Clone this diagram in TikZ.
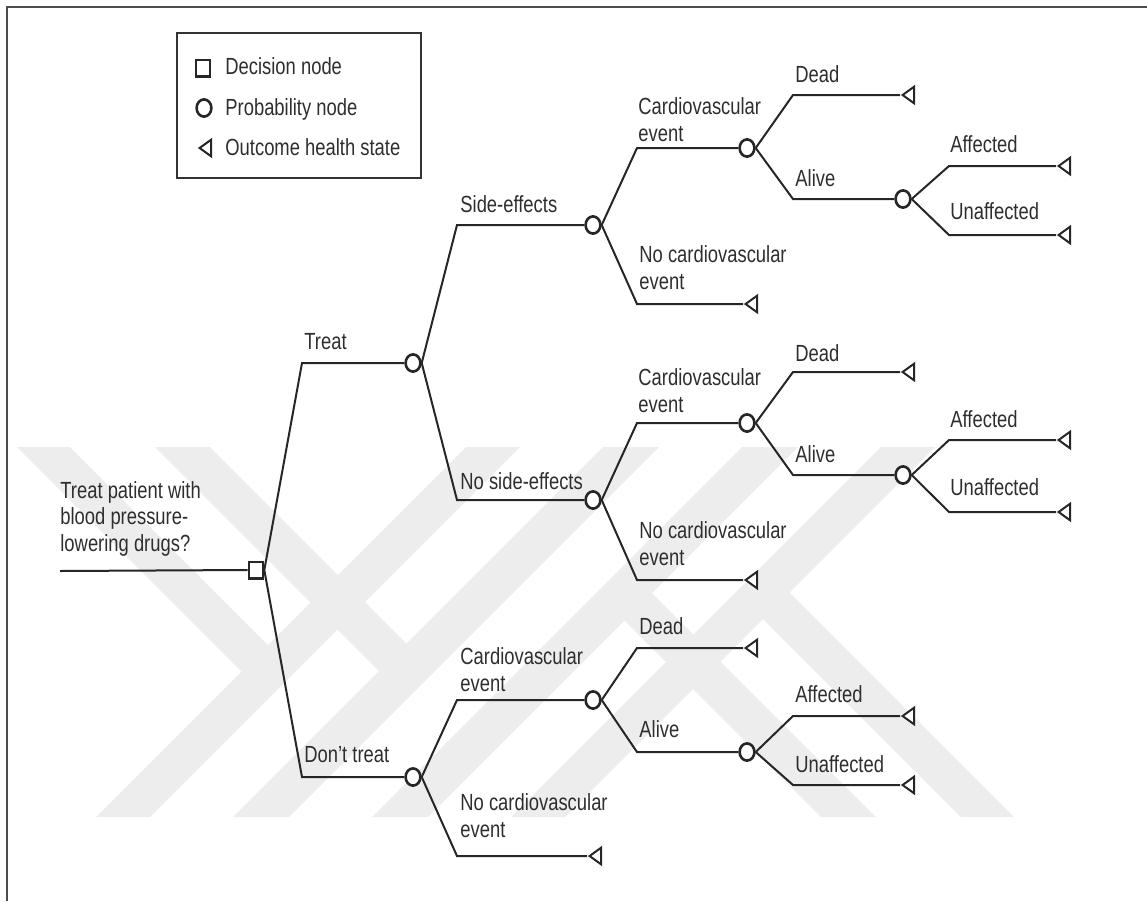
\documentclass[tikz,border=0pt]{standalone}
\usepackage{fontspec}
\setmainfont{Liberation Sans}
\usetikzlibrary{shapes.geometric,calc}
\tikzset{
  branch/.style={draw=black!85, line width=1pt},
  dnode/.style={draw=black!85, fill=white, line width=1.3pt, minimum width=7pt, minimum height=8.2pt, inner sep=0pt},
  pnode/.style={ellipse, draw=black!85, fill=white, line width=1.3pt, minimum width=7.4pt, minimum height=8.6pt, inner sep=0pt},
  onode/.style={isosceles triangle, isosceles triangle stretches, shape border rotate=180, draw=black!85, fill=white, line width=1pt, minimum height=5.8pt, minimum width=8.4pt, inner sep=0pt, anchor=apex},
  lbl/.style={font=\fontsize{9.2}{10.5}\selectfont, text=black!82, inner sep=0pt, yscale=1.27, anchor=south west, align=left},
  wm/.style={fill=black!7},
  frame/.style={draw=black!70, line width=0.7pt}
}
% one half of the background watermark
\newcommand{\wmlogo}{%
  \fill[wm] (96,817) -- (150,817) -- (520,447) -- (466,447) -- cycle;
  \fill[wm] (233,817) -- (289,817) -- (659,447) -- (603,447) -- cycle;
  \fill[wm] (17,447) -- (70,447) -- (281.5,658.5) -- (255,685) -- cycle;
  \fill[wm] (155,447) -- (210,447) -- (420.5,657.5) -- (393,685) -- cycle;
}

\begin{document}
\begin{tikzpicture}[x=0.5pt, y=-0.5pt]
\useasboundingbox (0,0) rectangle (1147,901);

% watermark
\wmlogo
\begin{scope}[rotate around={180:(515.5,632)}]
  \wmlogo
\end{scope}

% frame and legend
\draw[frame] (7,901) -- (7,7) -- (1147,7);
\draw[frame, draw=black!80] (177,33) rectangle (421,178);
\node[dnode] (lgDec) at (203,68) {};
\node[pnode] (lgProb) at (204,108) {};
\node[onode] (lgOut) at (197,148) {};
\node[lbl, anchor=base west] (lgDecT) at (225,74) {Decision node};
\node[lbl, anchor=base west] (lgProbT) at (225,115) {Probability node};
\node[lbl, anchor=base west] (lgOutT) at (225,155) {Outcome health state};

% decision
\coordinate (rootIn) at (60,571);
\node[dnode] (dec) at (256,570) {};
\node[lbl] (tRoot) at (60,557) {Treat patient with\\blood pressure-\\lowering drugs?};
\draw[branch] (rootIn) -- (dec.west);

% treat / don't treat
\coordinate (kTreat) at (302,363);
\coordinate (kDont) at (302,777);
\node[pnode] (pTreat) at (413,363) {};
\node[pnode] (pDont) at (413,777) {};
\draw[branch] (dec.east) -- (kTreat) -- (pTreat);
\draw[branch] (dec.east) -- (kDont) -- (pDont);
\node[lbl] (tTreat) at ($(kTreat)+(2,-13)$) {Treat};
\node[lbl] (tDont) at ($(kDont)+(2,-14)$) {Don't treat};

% side-effects / no side-effects
\coordinate (kSE) at (457,225);
\coordinate (kNSE) at (457,500);
\node[pnode] (pSE) at (593,225) {};
\node[pnode] (pNSE) at (593,500) {};
\draw[branch] (pTreat.east) -- (kSE) -- (pSE);
\draw[branch] (pTreat.east) -- (kNSE) -- (pNSE);
\node[lbl] (tSE) at ($(kSE)+(3,-12)$) {Side-effects};
\node[lbl] (tNSE) at ($(kNSE)+(3,-10)$) {No side-effects};

% side-effects subtree
\coordinate (kSECv) at (637,148);
\coordinate (kSENc) at (637,304);
\node[pnode] (pSECv) at (747,148) {};
\node[onode] (oSENc) at (743,304) {};
\draw[branch] (pSE.east) -- (kSECv) -- (pSECv);
\draw[branch] (pSE.east) -- (kSENc) -- (oSENc.apex);
\node[lbl] (tSECv) at ($(kSECv)+(1,-6)$) {Cardiovascular\\event};
\node[lbl] (tSENc) at ($(kSENc)+(2,-14)$) {No cardiovascular\\event};

\coordinate (kSEDead) at (793,95);
\coordinate (kSEAlive) at (793,199);
\node[onode] (oSEDead) at (900,95) {};
\node[pnode] (pSEAlive) at (903,199) {};
\draw[branch] (pSECv.east) -- (kSEDead) -- (oSEDead.apex);
\draw[branch] (pSECv.east) -- (kSEAlive) -- (pSEAlive);
\node[lbl] (tSEDead) at ($(kSEDead)+(2,-12)$) {Dead};
\node[lbl] (tSEAlive) at ($(kSEAlive)+(2,-12)$) {Alive};

\coordinate (kSEAff) at (949,166);
\coordinate (kSEUn) at (949,235);
\node[onode] (oSEAff) at (1056,166) {};
\node[onode] (oSEUn) at (1056,235) {};
\draw[branch] (pSEAlive.east) -- (kSEAff) -- (oSEAff.apex);
\draw[branch] (pSEAlive.east) -- (kSEUn) -- (oSEUn.apex);
\node[lbl] (tSEAff) at ($(kSEAff)+(1,-13)$) {Affected};
\node[lbl] (tSEUn) at ($(kSEUn)+(1,-15)$) {Unaffected};

% no side-effects subtree
\coordinate (kNCv) at (637,423);
\coordinate (kNNc) at (637,580);
\node[pnode] (pNCv) at (747,423) {};
\node[onode] (oNNc) at (743,580) {};
\draw[branch] (pNSE.east) -- (kNCv) -- (pNCv);
\draw[branch] (pNSE.east) -- (kNNc) -- (oNNc.apex);
\node[lbl] (tNCv) at ($(kNCv)+(1,-10)$) {Cardiovascular\\event};
\node[lbl] (tNNc) at ($(kNNc)+(2,-14)$) {No cardiovascular\\event};

\coordinate (kNDead) at (793,372);
\coordinate (kNAlive) at (793,475);
\node[onode] (oNDead) at (900,372) {};
\node[pnode] (pNAlive) at (903,475) {};
\draw[branch] (pNCv.east) -- (kNDead) -- (oNDead.apex);
\draw[branch] (pNCv.east) -- (kNAlive) -- (pNAlive);
\node[lbl] (tNDead) at ($(kNDead)+(2,-10)$) {Dead};
\node[lbl] (tNAlive) at ($(kNAlive)+(2,-12)$) {Alive};

\coordinate (kNAff) at (949,440);
\coordinate (kNUn) at (949,512);
\node[onode] (oNAff) at (1056,440) {};
\node[onode] (oNUn) at (1056,512) {};
\draw[branch] (pNAlive.east) -- (kNAff) -- (oNAff.apex);
\draw[branch] (pNAlive.east) -- (kNUn) -- (oNUn.apex);
\node[lbl] (tNAff) at ($(kNAff)+(1,-12)$) {Affected};
\node[lbl] (tNUn) at ($(kNUn)+(1,-16)$) {Unaffected};

% don't treat subtree
\coordinate (kDCv) at (457,700);
\coordinate (kDNc) at (457,856);
\node[pnode] (pDCv) at (593,700) {};
\node[onode] (oDNc) at (587,856) {};
\draw[branch] (pDont.east) -- (kDCv) -- (pDCv);
\draw[branch] (pDont.east) -- (kDNc) -- (oDNc.apex);
\node[lbl] (tDCv) at ($(kDCv)+(3,-8)$) {Cardiovascular\\event};
\node[lbl] (tDNc) at ($(kDNc)+(3,-18)$) {No cardiovascular\\event};

\coordinate (kDDead) at (637,648);
\coordinate (kDAlive) at (637,752);
\node[onode] (oDDead) at (743,648) {};
\node[pnode] (pDAlive) at (747,752) {};
\draw[branch] (pDCv.east) -- (kDDead) -- (oDDead.apex);
\draw[branch] (pDCv.east) -- (kDAlive) -- (pDAlive);
\node[lbl] (tDDead) at ($(kDDead)+(2,-13)$) {Dead};
\node[lbl] (tDAlive) at ($(kDAlive)+(2,-14)$) {Alive};

\coordinate (kDAff) at (793,716);
\coordinate (kDUn) at (793,785);
\node[onode] (oDAff) at (900,716) {};
\node[onode] (oDUn) at (900,785) {};
\draw[branch] (pDAlive.east) -- (kDAff) -- (oDAff.apex);
\draw[branch] (pDAlive.east) -- (kDUn) -- (oDUn.apex);
\node[lbl] (tDAff) at ($(kDAff)+(2,-13)$) {Affected};
\node[lbl] (tDUn) at ($(kDUn)+(2,-12)$) {Unaffected};
\end{tikzpicture}
\end{document}
